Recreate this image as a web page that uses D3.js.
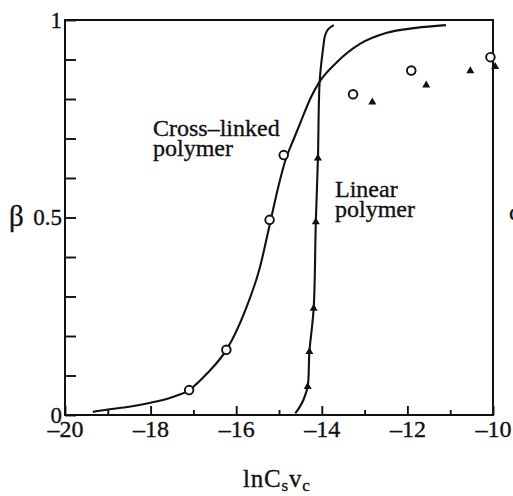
<!DOCTYPE html>
<html>
<head>
<meta charset="utf-8">
<script src="https://cdn.jsdelivr.net/npm/d3@7"></script>
<style>
  html, body { margin: 0; padding: 0; background: #fff; }
  svg { display: block; }
  text { font-family: "Liberation Serif", "DejaVu Serif", serif; fill: #111; stroke: #111; stroke-width: 0.35px; }
</style>
</head>
<body>
<svg id="chart" width="513" height="496"></svg>
<script>
// Fraction of charged groups β versus ln(Cs·vc) for two polymer networks

// Cross-linked polymer: measured points (open circles)
const crossX = [-17.1, -16.23, -15.22, -14.89, -13.27, -11.91, -10.06];
const crossY = [0.063, 0.165, 0.494, 0.658, 0.812, 0.872, 0.906];

// Cross-linked polymer: fitted curve
const crossCurveX = [-19.35, -19.0, -18.5, -18.0, -17.5, -17.1, -16.7, -16.2, -15.8, -15.45, -15.2, -15.0, -14.85, -14.65, -14.5, -14.25, -14.05, -13.65, -13.1, -12.5, -11.8, -11.1];
const crossCurveY = [0.008, 0.014, 0.021, 0.031, 0.045, 0.063, 0.103, 0.170, 0.262, 0.372, 0.490, 0.585, 0.645, 0.700, 0.740, 0.805, 0.844, 0.893, 0.940, 0.967, 0.980, 0.987];

// Linear polymer: measured points (filled triangles)
const linX = [-14.33, -14.29, -14.19, -14.14, -14.09, -12.82, -11.56, -10.53, -9.95];
const linY = [0.072, 0.160, 0.270, 0.489, 0.650, 0.792, 0.835, 0.871, 0.882];

// Linear polymer: fitted curve
const linCurveX = [-14.62, -14.53, -14.43, -14.33, -14.29, -14.19, -14.14, -14.09, -14.05, -13.97, -13.92, -13.85, -13.72];
const linCurveY = [0.004, 0.018, 0.038, 0.072, 0.160, 0.270, 0.489, 0.650, 0.844, 0.928, 0.962, 0.977, 0.987];

// Axis ticks and labels
const xMajorTicks = [-20, -18, -16, -14, -12, -10];
const xMinorTicks = [-19, -17, -15, -13, -11];
const yTicks = [0, 0.1, 0.2, 0.3, 0.4, 0.5, 0.6, 0.7, 0.8, 0.9, 1];
const yLabelMap = new Map([[0, "0"], [0.5, "0.5"], [1, "1"]]);

const svg = d3.select("#chart");
const x = d3.scaleLinear().domain([-20, -10]).range([65, 493]);
const y = d3.scaleLinear().domain([0, 1]).range([415, 20]);

const ink = "#111";

// Bottom axis: major ticks with labels, minor ticks without
const xAxis = svg.append("g").attr("transform", `translate(0,${y(0)})`)
  .call(d3.axisBottom(x).tickValues(xMajorTicks).tickSize(-9).tickPadding(5)
        .tickFormat(d => "\u2013" + Math.abs(d)));
xAxis.select(".domain").remove();
xAxis.selectAll("line").attr("stroke", ink).attr("stroke-width", 1.9);
xAxis.selectAll("text").attr("font-size", 24).attr("fill", ink)
  .style("font-family", "'Liberation Serif', serif");

const xMinor = svg.append("g").attr("transform", `translate(0,${y(0)})`)
  .call(d3.axisBottom(x).tickValues(xMinorTicks).tickSize(-5).tickFormat(""));
xMinor.select(".domain").remove();
xMinor.selectAll("line").attr("stroke", ink).attr("stroke-width", 1.9);

// Left axis: ticks every 0.1, labels at 0, 0.5 and 1
const yAxis = svg.append("g").attr("transform", `translate(${x(-20)},0)`)
  .call(d3.axisLeft(y).tickValues(yTicks).tickSize(-11).tickPadding(3)
        .tickFormat(d => yLabelMap.get(Math.round(d * 10) / 10) || ""));
yAxis.select(".domain").remove();
yAxis.selectAll("line").attr("stroke", ink).attr("stroke-width", 1.9);
yAxis.selectAll("text").attr("font-size", 23).attr("fill", ink)
  .style("font-family", "'Liberation Serif', serif");

// Plot frame
svg.append("rect")
  .attr("x", x(-20)).attr("y", y(1))
  .attr("width", x(-10) - x(-20)).attr("height", y(0) - y(1))
  .attr("fill", "none").attr("stroke", ink).attr("stroke-width", 2);

// Fitted curves
const crossLine = d3.line().x(d => x(d[0])).y(d => y(d[1])).curve(d3.curveMonotoneX);
svg.append("path")
  .datum(d3.zip(crossCurveX, crossCurveY))
  .attr("d", crossLine)
  .attr("fill", "none").attr("stroke", ink).attr("stroke-width", 2.1);

const linLine = d3.line().x(d => x(d[0])).y(d => y(d[1])).curve(d3.curveCatmullRom.alpha(0.5));
svg.append("path")
  .datum(d3.zip(linCurveX, linCurveY))
  .attr("d", linLine)
  .attr("fill", "none").attr("stroke", ink).attr("stroke-width", 2.1);

// Cross-linked points
svg.append("g").selectAll("circle")
  .data(d3.zip(crossX, crossY))
  .join("circle")
  .attr("cx", d => x(d[0])).attr("cy", d => y(d[1])).attr("r", 4.3)
  .attr("fill", "#fff").attr("stroke", ink).attr("stroke-width", 1.9);

// Linear points
const tri = d3.symbol().type(d3.symbolTriangle).size(28);
svg.append("g").selectAll("path")
  .data(d3.zip(linX, linY))
  .join("path")
  .attr("transform", d => `translate(${x(d[0])},${y(d[1])})`)
  .attr("d", tri)
  .attr("fill", ink);

// In-plot labels
const label = (lines, lx, ly) => {
  const t = svg.append("text").attr("x", lx).attr("y", ly).attr("font-size", 24);
  lines.forEach((s, i) => t.append("tspan").attr("x", lx).attr("dy", i ? 20 : 0).text(s));
};
label(["Cross\u2013linked", "polymer"], 153, 136);
label(["Linear", "polymer"], 335, 197);

// Y axis symbol
svg.append("text").attr("x", 9).attr("y", 226).attr("font-size", 29).text("β");

// X axis title: ln Cs vc with subscripts
const title = svg.append("text").attr("x", 243).attr("y", 487).attr("font-size", 25)
  .attr("letter-spacing", 0.8);
title.append("tspan").text("lnC");
title.append("tspan").attr("font-size", 17).attr("dy", 4).text("s");
title.append("tspan").attr("dy", -4).text("v");
title.append("tspan").attr("font-size", 17).attr("dy", 4).text("c");

// Clipped glyph at the right edge
svg.append("text").attr("x", 509).attr("y", 220).attr("font-size", 24).text("c");
</script>
</body>
</html>
